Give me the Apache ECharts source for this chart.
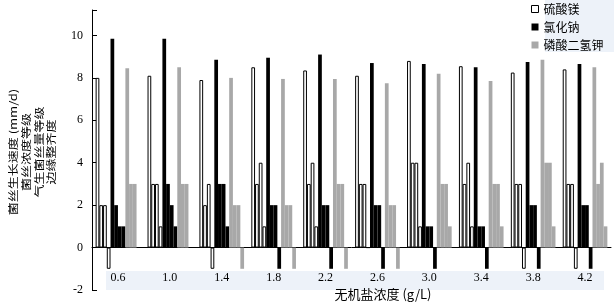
<!DOCTYPE html>
<html>
<head>
<meta charset="utf-8">
<script src="https://cdn.jsdelivr.net/npm/echarts@6/dist/echarts.min.js"></script>
<style>html,body{margin:0;padding:0;background:#fff;}#c{width:614px;height:305px;}</style>
</head>
<body>
<div id="c"></div>
<script>
const categories = ['0.6','1.0','1.4','1.8','2.2','2.6','3.0','3.4','3.8','4.2'];
const saltNames = ['硫酸镁','氯化钠','磷酸二氢钾'];
const yTitleLines = ['菌丝生长速度 (mm/d)','菌丝浓度等级','气生菌丝量等级','边缘整齐度'];
const xTitle = '无机盐浓度 (g/L)';

// 硫酸镁
const mgGrowth = [8.0, 8.1, 7.9, 8.5, 8.35, 8.1, 8.8, 8.55, 8.25, 8.4];
const mgConc   = [2, 3, 2, 3, 3, 3, 4, 3, 3, 3];
const mgAerial = [2, 3, 3, 4, 4, 3, 4, 4, 3, 3];
const mgEdge   = [-1, 1, -1, 1, 1, 0, 1, 1, -1, -1];
// 氯化钠
const naGrowth = [9.85, 9.85, 8.85, 8.95, 9.1, 8.7, 8.65, 8.5, 8.75, 8.65];
const naConc   = [2, 3, 3, 2, 2, 2, 1, 1, 2, 2];
const naAerial = [1, 2, 3, 2, 2, 2, 1, 1, 2, 2];
const naEdge   = [1, 1, 1, -1, -1, -1, -1, -1, -1, -1];
// 磷酸二氢钾
const kGrowth  = [8.45, 8.5, 8.0, 7.95, 7.95, 7.75, 8.2, 7.85, 8.85, 8.5];
const kConc    = [3, 3, 2, 2, 3, 2, 3, 3, 4, 3];
const kAerial  = [3, 3, 2, 2, 3, 2, 3, 3, 4, 4];
const kEdge    = [0, 0, -1, -1, -1, -1, 1, 1, 1, 1];

const styles = [
  {color:'#ffffff', borderColor:'#000000', borderWidth:1},
  {color:'#000000'},
  {color:'#a8a8a8'}
];
const groups = [
  [mgGrowth, mgConc, mgAerial, mgEdge],
  [naGrowth, naConc, naAerial, naEdge],
  [kGrowth, kConc, kAerial, kEdge]
];
const series = [];
groups.forEach((g, i) => {
  g.forEach(d => {
    series.push({
      type:'bar', name: saltNames[i], data: d,
      barGap:'0%', barCategoryGap:'14%',
      itemStyle: styles[i], silent:true
    });
  });
});

const yTitleX = [13, 26, 39, 51];
const yTitleEls = yTitleLines.map((t, i) => ({
  type:'text', x: yTitleX[i], y:152, rotation:Math.PI/2, scaleX:1, scaleY:0.78,
  style:{text:t, fill:'#000', font:'13px "Noto Sans CJK SC", serif',
    align:'center', verticalAlign:'middle'}
}));

const serif = 'Liberation Serif, "Noto Sans CJK SC", serif';
const chart = echarts.init(document.getElementById('c'), null, {renderer:'canvas'});
chart.setOption({
  animation:false,
  backgroundColor:'#ffffff',
  grid:{left:92, right:3, top:10, bottom:15, outerBoundsMode:'none', containLabel:false},
  legend:{
    data: saltNames.map((n,i)=>({name:n, icon:'rect', itemStyle: styles[i]})),
    orient:'vertical', left:526, top:-3,
    itemWidth:7, itemHeight:7, itemGap:4, itemTextGap:3,
    textStyle:{fontSize:12, color:'#000', fontFamily:'"Noto Sans CJK SC", serif', lineHeight:14},
    selectedMode:false
  },
  xAxis:{
    type:'category', data: categories,
    axisLine:{onZero:true, lineStyle:{color:'#000', width:1}},
    axisTick:{show:false},
    axisLabel:{margin:-18, color:'#000', fontSize:12, fontFamily: serif},
    splitLine:{show:false}
  },
  yAxis:{
    type:'value', min:-2, max:11.2, interval:2,
    axisLine:{show:true, lineStyle:{color:'#000', width:1}},
    axisTick:{show:true, inside:true, length:5, lineStyle:{color:'#000'}},
    splitLine:{show:false},
    axisLabel:{margin:9, color:'#000', fontSize:12, fontFamily: serif,
      formatter: v => (Math.abs(v - Math.round(v)) < 1e-6 && Math.round(v) % 2 === 0) ? String(Math.round(v)) : ''}
  },
  graphic: [
    {type:'rect', z:-10, shape:{x:106, y:271, width:498, height:19}, style:{fill:'#edf2f9'}},
    {type:'rect', z:-10, shape:{x:545, y:0, width:69, height:52}, style:{fill:'#edf2f9'}},
    {type:'text', x:383, y:294,
      style:{text: xTitle, fill:'#000', font:'13px "Noto Sans CJK SC", serif',
        align:'center', verticalAlign:'middle'}}
  ].concat(yTitleEls),
  series: series
});
</script>
</body>
</html>
